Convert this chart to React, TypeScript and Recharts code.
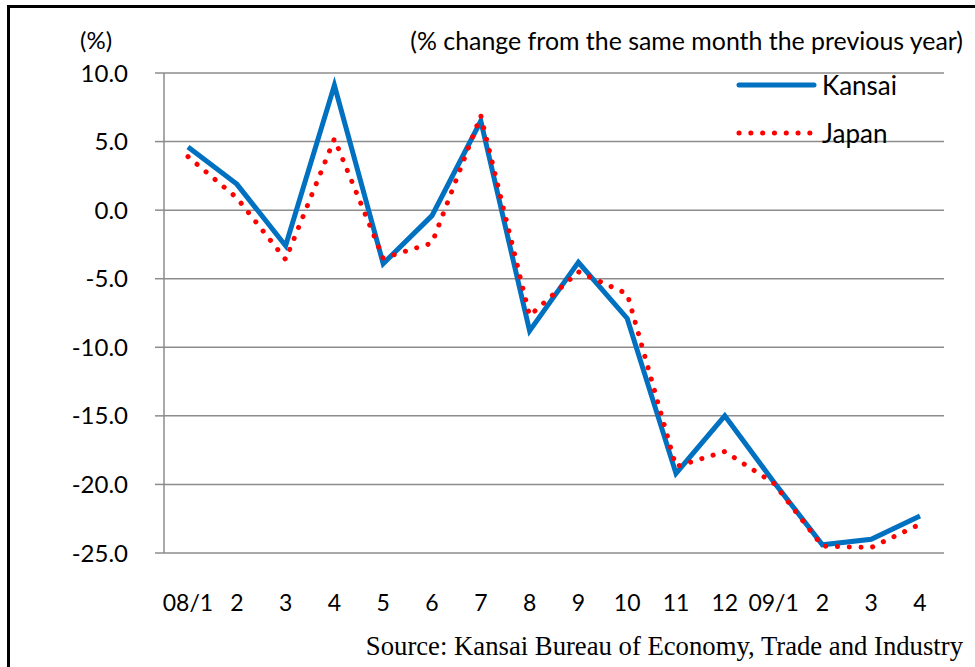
import React from 'react';
import { LineChart, Line, XAxis, YAxis, CartesianGrid } from 'recharts';

const months = ['08/1', '2', '3', '4', '5', '6', '7', '8', '9', '10', '11', '12', '09/1', '2', '3', '4'];
const kansai = [4.6, 1.9, -2.6, 9.1, -3.9, -0.4, 6.5, -8.8, -3.8, -7.9, -19.2, -15.0, -19.8, -24.4, -24.0, -22.3];
const japan = [3.9, 0.9, -3.6, 5.2, -3.5, -2.4, 6.9, -7.7, -4.5, -6.1, -18.7, -17.6, -19.9, -24.5, -24.6, -22.9];
const yTicks = [10, 5, 0, -5, -10, -15, -20, -25];

const data = months.map((m, i) => ({ month: m, Kansai: kansai[i], Japan: japan[i] }));

const FONT = 'Lato, "Open Sans", sans-serif';
const GRID = '#8c8c8c';

const LegendBox = () => (
  <div style={{ position: 'absolute', left: 735, top: 69, fontFamily: FONT, fontSize: 26, color: '#000' }}>
    <div style={{ display: 'flex', alignItems: 'center', height: 32 }}>
      <svg width={87} height={10}>
        <line x1={4} y1={5} x2={79} y2={5} stroke="#0070c0" strokeWidth={5} strokeLinecap="round" />
      </svg>
      <span>Kansai</span>
    </div>
    <div style={{ display: 'flex', alignItems: 'center', height: 32, marginTop: 16 }}>
      <svg width={87} height={10}>
        <line x1={4} y1={5} x2={78} y2={5} stroke="#ff0000" strokeWidth={5} strokeLinecap="round" strokeDasharray="0.1 11.7" />
      </svg>
      <span>Japan</span>
    </div>
  </div>
);

export default function App() {
  return (
    <div style={{ position: 'absolute', left: 0, top: 0, width: 975, height: 667, overflow: 'hidden', background: '#fff' }}>
      <div style={{ position: 'absolute', left: 7, top: 5, width: 1000, height: 700, borderLeft: '3px solid #000', borderTop: '3px solid #000' }} />
      <div style={{ position: 'absolute', left: 0, top: 0 }}>
        <LineChart width={975} height={667} data={data} margin={{ top: 73, right: 31, bottom: 54, left: 0 }}>
          <CartesianGrid vertical={false} stroke={GRID} strokeWidth={1.5} />
          <XAxis
            dataKey="month"
            axisLine={false}
            tickLine={false}
            tickSize={0}
            tickMargin={42}
            height={60}
            interval={0}
            padding={{ left: 24, right: 24 }}
            tick={{ fill: '#000', fontSize: 23, fontFamily: FONT }}
          />
          <YAxis
            domain={[-25, 10]}
            ticks={yTicks}
            interval={0}
            width={164}
            tickSize={9}
            tickMargin={27}
            axisLine={{ stroke: GRID, strokeWidth: 1.5 }}
            tickLine={{ stroke: GRID, strokeWidth: 1.5 }}
            tickFormatter={(v: number) => v.toFixed(1)}
            tick={{ fill: '#000', fontSize: 24, fontFamily: FONT }}
          />
          <Line dataKey="Kansai" stroke="#0070c0" strokeWidth={5} dot={false} isAnimationActive={false} />
          <Line
            dataKey="Japan"
            stroke="#ff0000"
            strokeWidth={5}
            strokeLinecap="round"
            strokeDasharray="0.1 11.7"
            dot={false}
            isAnimationActive={false}
          />
        </LineChart>
      </div>
      <LegendBox />
      <div style={{ position: 'absolute', left: 80, top: 25, fontFamily: FONT, fontSize: 24 }}>(%)</div>
      <div style={{ position: 'absolute', right: 12, top: 25, fontFamily: FONT, fontSize: 24.9, whiteSpace: 'nowrap' }}>
        (% change from the same month the previous year)
      </div>
      <div style={{ position: 'absolute', right: 12, top: 631, fontFamily: '"Liberation Serif", "Times New Roman", serif', fontSize: 26.7, whiteSpace: 'nowrap' }}>
        Source: Kansai Bureau of Economy, Trade and Industry
      </div>
    </div>
  );
}
